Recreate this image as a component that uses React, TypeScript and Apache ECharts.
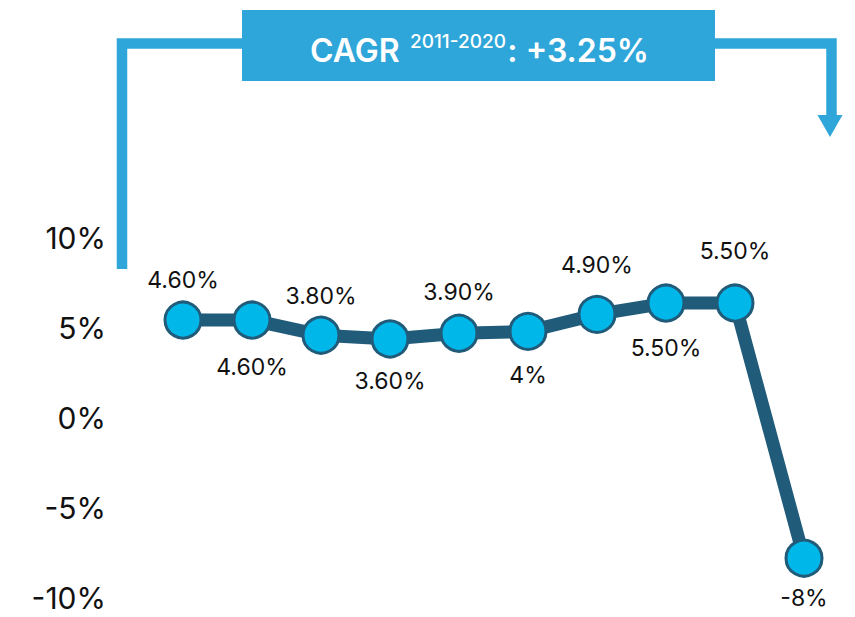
import React, { useEffect, useRef } from "react";
import * as echarts from "echarts";

const years = ["2011", "2012", "2013", "2014", "2015", "2016", "2017", "2018", "2019", "2020"];
const growth = [4.6, 4.6, 3.8, 3.6, 3.9, 4, 4.9, 5.5, 5.5, -8];
const growthLabels = ["4.60%", "4.60%", "3.80%", "3.60%", "3.90%", "4%", "4.90%", "5.50%", "5.50%", "-8%"];
const labelShift = [-40, 47, -39, 42, -41, 44, -49, 45, -52, 40];
const yMin = -10;
const yMax = 10;
const yStep = 5;
const cagrTitle = "CAGR";
const cagrPeriod = "2011-2020";
const cagrValue = ": +3.25%";

const BLUE = "#2fa6da";
const DARK = "#215b7a";
const CYAN = "#00b7ea";
const FONT = "Inter";

export default function App() {
  const ref = useRef<HTMLDivElement>(null);

  useEffect(() => {
    document.body.style.margin = "0";
    if (!ref.current) return;
    const chart = echarts.init(ref.current, null, { renderer: "svg" });

    const option: any = {
      animation: false,
      backgroundColor: "#ffffff",
      grid: [
        { left: 183, right: 51, top: 218, bottom: 21 },
        { left: 120, right: 51, top: 238, bottom: 19 },
      ],
      xAxis: [
        { type: "category", gridIndex: 0, data: years, boundaryGap: false, show: false },
        { type: "value", gridIndex: 1, show: false },
      ],
      yAxis: [
        { type: "value", gridIndex: 0, min: yMin, max: yMax, show: false },
        {
          type: "value",
          gridIndex: 1,
          min: yMin,
          max: yMax,
          interval: yStep,
          axisLine: { show: false },
          axisTick: { show: false },
          splitLine: { show: false },
          axisLabel: {
            formatter: "{value}%",
            margin: 14,
            fontSize: 30,
            lineHeight: 24,
            fontFamily: FONT,
            color: "#111111",
          },
        },
      ],
      series: [
        {
          type: "line",
          xAxisIndex: 0,
          yAxisIndex: 0,
          data: growth.map((v, i) => ({
            value: v,
            label: { offset: [0, labelShift[i]] },
          })),
          lineStyle: { color: DARK, width: 13, join: "round" },
          symbol: "circle",
          symbolSize: 36,
          itemStyle: { color: CYAN, borderColor: DARK, borderWidth: 3 },
          label: {
            show: true,
            position: "inside",
            formatter: (p: any) => growthLabels[p.dataIndex],
            fontSize: 23,
            fontFamily: FONT,
            color: "#111111",
          },
          z: 3,
        },
      ],
      graphic: [
        {
          type: "polyline",
          shape: { points: [[122, 269], [122, 43.5], [242, 43.5]] },
          style: { stroke: BLUE, lineWidth: 10.5, fill: "none", lineJoin: "miter", lineCap: "butt" },
        },
        {
          type: "polyline",
          shape: { points: [[715, 43.5], [831.5, 43.5], [831.5, 118]] },
          style: { stroke: BLUE, lineWidth: 10.5, fill: "none", lineJoin: "miter", lineCap: "butt" },
        },
        {
          type: "polygon",
          shape: { points: [[817.5, 115], [842.5, 115], [830, 137]] },
          style: { fill: BLUE },
        },
        {
          type: "rect",
          shape: { x: 242, y: 10, width: 473, height: 71 },
          style: { fill: BLUE },
        },
        {
          type: "text",
          x: 310,
          y: 50,
          style: {
            text: cagrTitle,
            fill: "#ffffff",
            fontSize: 32,
            fontWeight: 600,
            fontFamily: FONT,
            align: "left",
            verticalAlign: "middle",
          },
        },
        {
          type: "text",
          x: 410,
          y: 41.5,
          style: {
            text: cagrPeriod,
            fill: "#ffffff",
            fontSize: 19,
            fontWeight: 500,
            fontFamily: FONT,
            align: "left",
            verticalAlign: "middle",
          },
        },
        {
          type: "text",
          x: 649,
          y: 50,
          style: {
            text: cagrValue,
            fill: "#ffffff",
            fontSize: 32,
            fontWeight: 600,
            fontFamily: FONT,
            align: "right",
            verticalAlign: "middle",
          },
        },
      ],
    };

    chart.setOption(option);
    return () => chart.dispose();
  }, []);

  return <div ref={ref} style={{ width: 855, height: 617 }} />;
}
